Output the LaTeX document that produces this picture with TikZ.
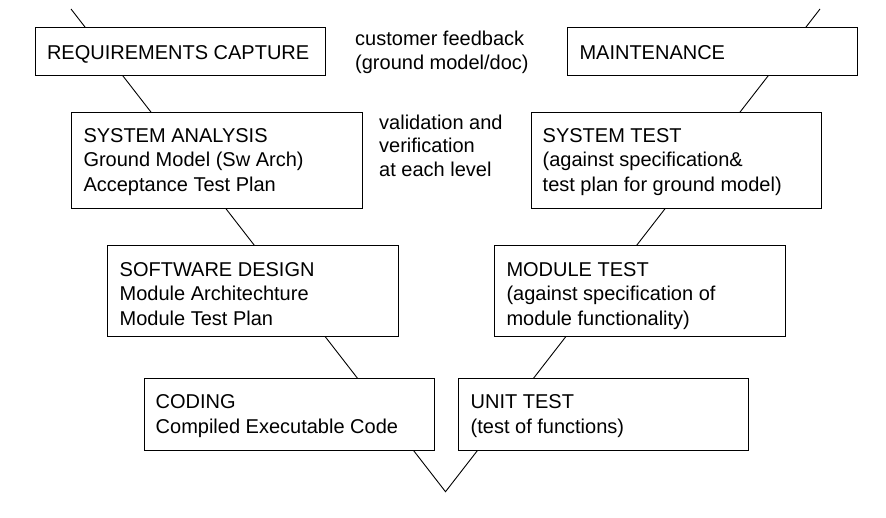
\documentclass[tikz,border=0pt]{standalone}
\usepackage{fontspec}
\setmainfont{Liberation Sans}
\begin{document}
\begin{tikzpicture}[x=1pt,y=-1pt,
  box/.style={draw=black, line width=1pt, fill=white, rectangle, inner sep=0pt, anchor=north west, minimum width=290.5},
  txt/.style={inner sep=0pt, anchor=base west, align=left, text=black, font=\fontsize{20}{24.5}\selectfont},
  side/.style={txt, font=\fontsize{20}{23.5}\selectfont},
  vline/.style={draw=black, line width=0.9pt}]
\useasboundingbox (0,0) rectangle (886,517);
% V-shaped process line
\coordinate (tl) at (71,9);
\coordinate (bot) at (445.5,491.7);
\coordinate (tr) at (820,9);
\draw[vline] (tl) -- (bot) -- (tr);
% boxes
\node[box, minimum height=48.3] (req) at (34.5,27) {};
\node[box, minimum height=48.3] (mnt) at (566.5,27) {};
\node[box, minimum height=96.5] (sa) at (71,111.7) {};
\node[box, minimum height=96.5] (st) at (530.5,111.7) {};
\node[box, minimum height=90.7] (sd) at (107,245) {};
\node[box, minimum height=90.7] (mt) at (494,245) {};
\node[box, minimum height=72] (co) at (143.5,378) {};
\node[box, minimum height=72] (ut) at (457.5,378) {};
% texts (anchor = baseline of the last line)
\node[txt] (reqt) at (46.8,59.3) {REQUIREMENTS CAPTURE};
\node[txt] (mntt) at (579.3,59.3) {MAINTENANCE};
\node[side] (cust) at (355,69.3) {customer feedback\\(ground model/doc)};
\node[side] (valt) at (379,176) {validation and\\verification\\at each level};
\node[txt] (sat) at (83.3,191.3) {SYSTEM ANALYSIS\\Ground Model (Sw Arch)\\Acceptance Test Plan};
\node[txt] (stt) at (542.5,191.3) {SYSTEM TEST\\(against specification\&\\test plan for ground model)};
\node[txt] (sdt) at (119.5,325) {SOFTWARE DESIGN\\Module Architechture\\Module Test Plan};
\node[txt] (mtt) at (506.3,325) {MODULE TEST\\(against specification of\\module functionality)};
\node[txt] (cot) at (155.5,433) {CODING\\Compiled Executable Code};
\node[txt] (utt) at (470.5,433) {UNIT TEST\\(test of functions)};
\end{tikzpicture}
\end{document}
